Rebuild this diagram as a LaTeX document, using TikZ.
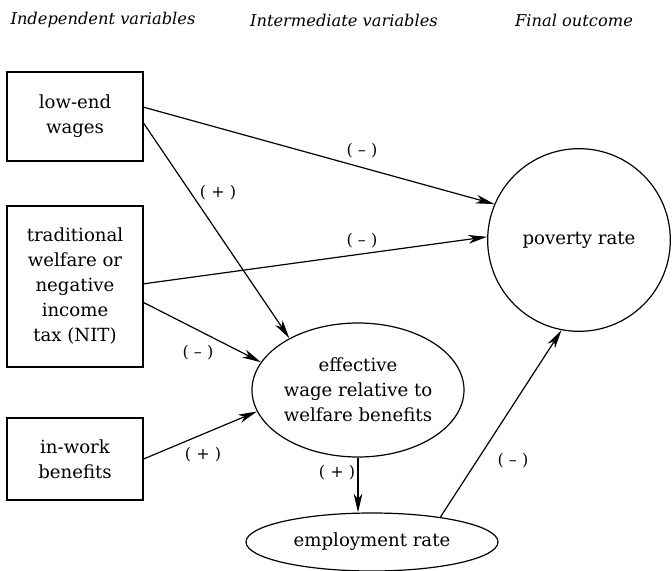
\documentclass[tikz,border=0pt]{standalone}
\usepackage{fontspec}
\setmainfont{DejaVu Serif}
\usetikzlibrary{shapes.geometric,arrows.meta}

\begin{document}
\begin{tikzpicture}[x=0.75pt,y=-0.75pt,
    box/.style={draw, line width=0.9pt, align=center, minimum width=102pt,
        font=\fontsize{13.6}{18.75}\selectfont},
    oval/.style={draw, ellipse, line width=0.9pt, align=center, inner sep=0pt,
        font=\fontsize{13.6}{18.75}\selectfont},
    arr/.style={-{Stealth[length=14pt,width=6.5pt,inset=4pt]}, line width=0.9pt},
    sign/.style={font=\fontsize{12}{14}\selectfont},
    head/.style={font=\fontsize{12.2}{14}\selectfont\itshape}]
    \useasboundingbox (0,0) rectangle (672,571);

    % Column headings
    \node[head] (hindep) at (103,20) {Independent variables};
    \node[head] (hinter) at (344,20) {Intermediate variables};
    \node[head] (hfinal) at (574,20) {Final outcome};

    % Independent variables
    \node[box, minimum height=66.75pt] (lowend) at (75,116.5) {low-end\\wages};
    \node[box, minimum height=120.75pt] (trad) at (75,286.5)
        {traditional\\welfare or\\negative\\income\\tax (NIT)};
    \node[box, minimum height=61.5pt] (inwork) at (75,459) {in-work\\benefits};

    % Intermediate variables
    \node[oval, minimum width=159pt, minimum height=100.5pt] (effective) at (358,390)
        {effective\\wage relative to\\welfare benefits};
    \node[oval, minimum width=189pt, minimum height=43.5pt] (employ) at (372,542)
        {employment rate};

    % Final outcome
    \node[draw, circle, line width=0.9pt, minimum size=137pt, inner sep=0pt,
        font=\fontsize{13.6}{18.75}\selectfont] (poverty) at (579,240) {poverty rate};

    % Arrows
    \draw[arr] ([yshift=7pt]lowend.east) -- (poverty.157);
    \draw[arr] ([yshift=-5pt]lowend.east) -- (effective.143);
    \draw[arr] ([yshift=2pt]trad.east) -- (poverty.178);
    \draw[arr] ([yshift=-12pt]trad.east) -- (effective.164);
    \draw[arr] (inwork.east) -- (effective.192);
    \draw[arr] (effective.south) -- (effective.south |- employ.north);
    \draw[arr] (employ.20) -- (poverty.259);

    % Signs
    \node[sign] (s1) at (362,151) {( -- )};
    \node[sign] (s2) at (362,241) {( -- )};
    \node[sign] (s3) at (218,193) {( + )};
    \node[sign] (s4) at (198,353) {( -- )};
    \node[sign] (s5) at (203,455) {( + )};
    \node[sign] (s6) at (337,473) {( + )};
    \node[sign] (s7) at (513,461) {( -- )};
\end{tikzpicture}
\end{document}
